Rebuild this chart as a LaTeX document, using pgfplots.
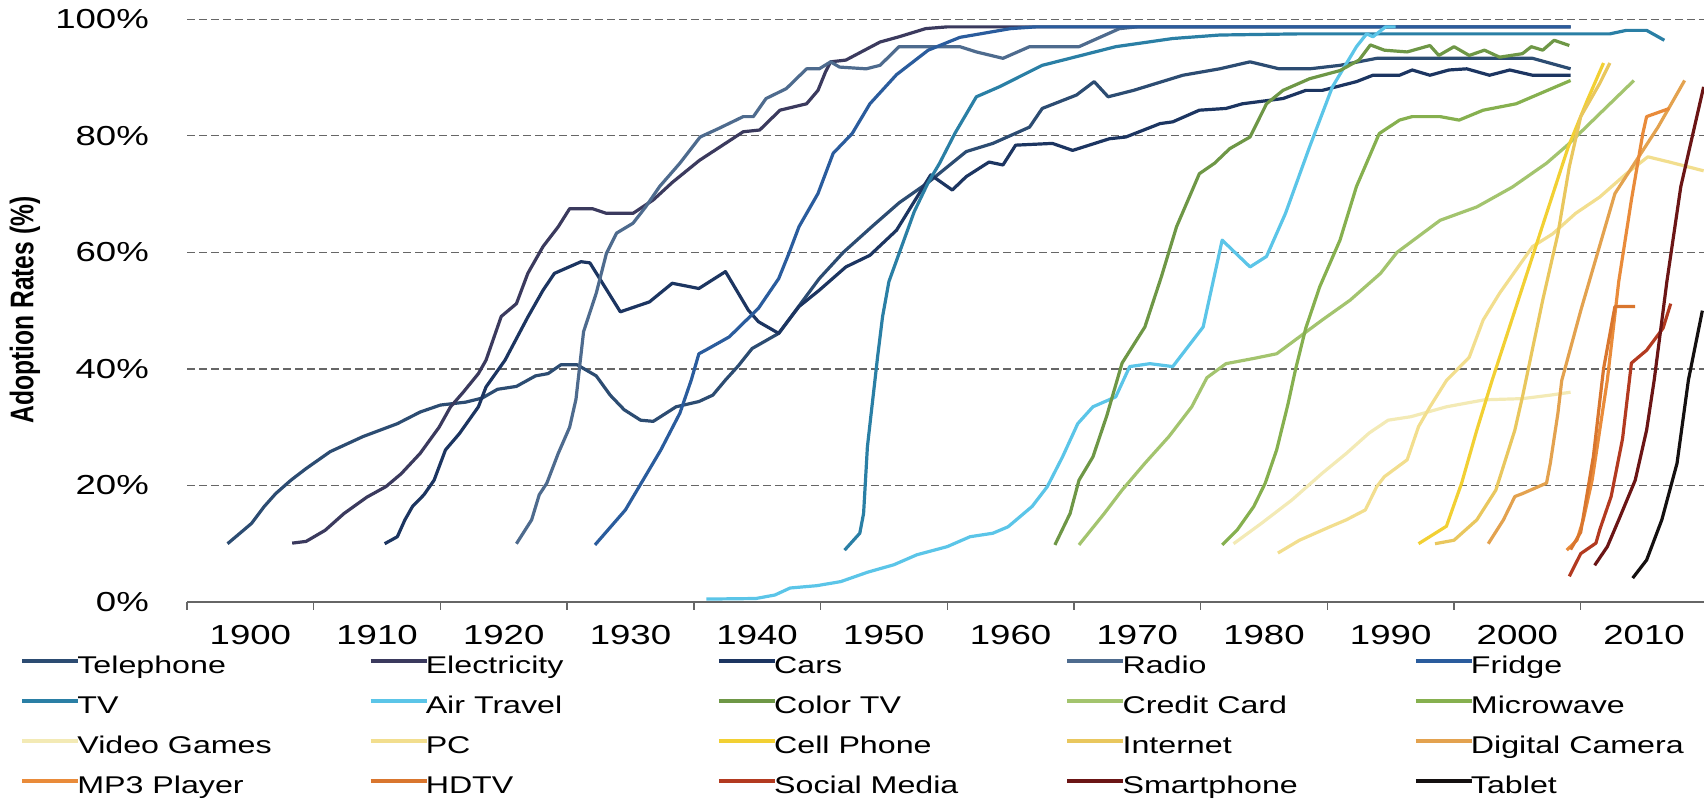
\documentclass[border=0pt]{standalone}
\usepackage{fontspec}
\setmainfont{Liberation Sans}[FakeStretch=1.33]
\newfontfamily\ylabfont{Liberation Sans}
\usepackage{pgfplots}
\pgfplotsset{compat=1.18}
\definecolor{cTel}{HTML}{2C4C72}
\definecolor{cEle}{HTML}{3B3A5E}
\definecolor{cCar}{HTML}{1C3561}
\definecolor{cRad}{HTML}{4E6B8E}
\definecolor{cFri}{HTML}{2A5C9D}
\definecolor{cTV}{HTML}{2A7FA5}
\definecolor{cAir}{HTML}{5BC5E8}
\definecolor{cCTV}{HTML}{6E9746}
\definecolor{cCC}{HTML}{A3C46E}
\definecolor{cMic}{HTML}{86B04F}
\definecolor{cVG}{HTML}{F3EAB5}
\definecolor{cPC}{HTML}{F2DE8E}
\definecolor{cCell}{HTML}{F2D033}
\definecolor{cInt}{HTML}{E9C75E}
\definecolor{cDC}{HTML}{E3A24F}
\definecolor{cMP3}{HTML}{E98B3A}
\definecolor{cHD}{HTML}{D9762E}
\definecolor{cSM}{HTML}{B33A20}
\definecolor{cSP}{HTML}{6B1515}
\definecolor{cTab}{HTML}{141010}
\begin{document}
\begin{tikzpicture}
\path[use as bounding box] (0,0) rectangle (852bp,400bp);
\begin{axis}[
  at={(93.5bp,99bp)}, anchor=south west,
  scale only axis, width=758.5bp, height=291.35bp,
  xmin=1895, xmax=2014.73, ymin=0, ymax=100,
  axis x line=bottom, axis y line=left,
  x axis line style={-, draw=black!60, line width=0.7bp},
  y axis line style={draw=none},
  xtick={1900,1910,1920,1930,1940,1950,1960,1970,1980,1990,2000,2010},
  xticklabels={1900,1910,1920,1930,1940,1950,1960,1970,1980,1990,2000,2010},
  minor xtick={1895,1905,1915,1925,1935,1945,1955,1965,1975,1985,1995,2005},
  major tick length=0pt, minor tick length=3.8bp, tick align=outside,
  minor tick style={draw=black!60, line width=0.7bp},
  ytick={0,20,40,60,80,100},
  yticklabels={0\%,20\%,40\%,60\%,80\%,100\%},
  ymajorgrids, grid style={dash pattern=on 4bp off 2bp, draw=black!60, line width=0.6bp},
  /pgf/number format/assume math mode=true,
  xticklabel style={font=\fontsize{13.75bp}{16bp}\selectfont, inner sep=0pt, anchor=north, yshift=-11.5bp},
  yticklabel style={font=\fontsize{13.75bp}{16bp}\selectfont, inner sep=0pt, anchor=east, xshift=-18.9bp},
  ylabel={\ylabfont\bfseries Adoption Rates (\%)},
  ylabel style={at={(axis description cs:-0.1068,0.501)}, anchor=center, font=\fontsize{12.3bp}{14bp}\selectfont, yscale=1.33},
  legend columns=5,
  legend style={at={(axis description cs:-0.1101,-0.0920)}, anchor=north west, draw=none, fill=none,
    inner sep=0pt, outer sep=0pt, font=\fontsize{12.1bp}{14bp}\selectfont,
    nodes={inner sep=0pt, text height=9bp, text depth=2.6bp},
    row sep=8.4bp, column sep=0pt,
    /tikz/every odd column/.append style={column sep=-1.5bp}},
  legend image code/.code={\draw[#1, line width=2.2bp] (0bp,3.2bp) -- (28bp,3.2bp);},
  every axis plot/.append style={line width=1.6bp, line join=round},
]
% Telephone
\addplot[cTel] coordinates {(1898.2,10) (1900.1,13.5) (1901.1,16.4) (1902,18.6) (1903.2,20.9) (1904.4,22.9) (1906.3,25.8) (1908.9,28.4) (1911.6,30.6) (1913.4,32.6) (1915,33.8) (1917,34.3) (1918.3,35.0) (1919.5,36.5) (1921,37.0) (1922.5,38.8) (1923.5,39.2) (1924.5,40.7) (1925.8,40.7) (1927.3,38.8) (1928.4,35.5) (1929.5,33) (1930.8,31.2) (1931.8,31.0) (1933.6,33.5) (1935.4,34.4) (1936.5,35.5) (1937.5,38.1) (1938.5,40.5) (1939.6,43.5) (1941.7,46.1) (1944.9,55.5) (1946.8,60) (1949.1,64.5) (1951.2,68.5) (1953.5,72) (1956.5,77.3) (1958.6,78.7) (1961.5,81.5) (1962.5,84.7) (1965.2,87) (1966.6,89.3) (1967.7,86.7) (1969.7,87.8) (1973.6,90.4) (1976.5,91.5) (1978.9,92.7) (1981.2,91.5) (1983.6,91.5) (1986,92.1) (1988.9,93.3) (2001.2,93.3) (2004.2,91.5)};
\addlegendentry{\makebox[145.5bp][l]{Telephone}}
% Electricity
\addplot[cEle] coordinates {(1903.3,10.1) (1904.4,10.4) (1905.9,12.3) (1907.4,15.2) (1909.2,18) (1910.7,19.8) (1911.9,22) (1913.4,25.5) (1914.9,30) (1915.8,33.5) (1916.8,36) (1918,39.2) (1918.6,41.5) (1919.8,49) (1921,51.2) (1921.9,56.4) (1923.1,61) (1924.3,64.4) (1925.2,67.5) (1927,67.5) (1928.1,66.7) (1930.2,66.7) (1931.8,69) (1933.3,72) (1935.45,75.8) (1938.9,80.7) (1940.2,81) (1941.8,84.4) (1943.9,85.5) (1944.8,87.8) (1945.4,91) (1945.8,92.7) (1947,93) (1949.7,96.1) (1951.2,97) (1953.3,98.4) (1955,98.7) (2004.2,98.7)};
\addlegendentry{\makebox[145.5bp][l]{Electricity}}
% Cars
\addplot[cCar] coordinates {(1910.6,10) (1911.6,11.2) (1912.2,14.1) (1912.8,16.4) (1913.7,18.4) (1914.5,20.9) (1915.4,26.1) (1916.5,28.9) (1918,33.5) (1918.6,36.9) (1920.1,41.5) (1921.9,48.9) (1923.1,53.5) (1924,56.4) (1926.1,58.4) (1926.8,58.2) (1929.2,49.8) (1931.5,51.5) (1933.3,54.7) (1935.4,53.8) (1937.5,56.7) (1939.3,50.1) (1940.1,48.1) (1941.7,46.1) (1943.3,50.7) (1944.9,53.5) (1947,57.5) (1948.9,59.5) (1951,63.8) (1953.7,73.3) (1955.4,70.7) (1956.5,73) (1958.3,75.5) (1959.4,75) (1960.4,78.4) (1963.3,78.7) (1964.9,77.5) (1967.8,79.5) (1969.1,79.8) (1971.8,82.1) (1972.8,82.4) (1974.9,84.4) (1977,84.7) (1978.3,85.5) (1981.5,86.4) (1983.3,87.8) (1984.6,87.8) (1987.3,89.3) (1988.6,90.4) (1990.7,90.4) (1991.7,91.3) (1993.1,90.4) (1994.6,91.3) (1996,91.5) (1997.8,90.4) (1999.4,91.3) (2001.2,90.4) (2004.2,90.4)};
\addlegendentry{\makebox[145.5bp][l]{Cars}}
% Radio
\addplot[cRad] coordinates {(1921,10) (1922.2,14.1) (1922.8,18.4) (1923.4,20.4) (1924.3,25.5) (1925.2,30) (1925.7,34.8) (1926.3,46.4) (1927.3,53) (1928.1,59.8) (1928.9,63.3) (1930.2,65) (1931.2,67.8) (1932.3,71.3) (1933.9,75.3) (1935.5,79.8) (1937,81.3) (1938.9,83.3) (1939.7,83.3) (1940.7,86.4) (1942.3,88.1) (1943.9,91.5) (1944.9,91.5) (1945.8,92.7) (1946.5,91.8) (1948.6,91.5) (1949.7,92.1) (1951.2,95.3) (1956,95.3) (1957.3,94.4) (1959.4,93.3) (1961.5,95.3) (1965.4,95.3) (1968.6,98.4) (1970,98.7) (2004.2,98.7)};
\addlegendentry{\makebox[145.5bp][l]{Radio}}
% Fridge
\addplot[cFri] coordinates {(1927.2,9.8) (1929.6,15.8) (1932.4,26.1) (1933.9,32.4) (1934.8,38.1) (1935.4,42.6) (1936,43.3) (1937.8,45.5) (1940.1,50.4) (1941.7,55.5) (1942.5,59.8) (1943.3,64.4) (1944.8,70.1) (1946,77) (1947.5,80.4) (1948.9,85.5) (1951,90.5) (1953.5,94.7) (1956,96.9) (1960,98.4) (1962,98.7) (2004.2,98.7)};
\addlegendentry{\makebox[145.5bp][l]{Fridge}}
% TV
\addplot[cTV] coordinates {(1946.9,8.9) (1948.1,11.8) (1948.4,15.2) (1948.7,26.6) (1949,32.4) (1949.3,38.1) (1949.5,42) (1949.9,49) (1950.4,55) (1951.2,59.8) (1952.4,67) (1953.5,72) (1954.4,75.3) (1955.6,80.4) (1957.3,86.7) (1959.1,88.4) (1962.5,92.1) (1968.3,95.3) (1972.8,96.7) (1976.5,97.3) (1982.8,97.5) (2007.3,97.5) (2008.6,98.1) (2010.2,98.1) (2011.6,96.4)};
\addlegendentry{\makebox[145.5bp][l]{TV}}
% Air Travel
\addplot[cAir] coordinates {(1936,0.5) (1939.9,0.6) (1941.4,1.2) (1942.6,2.4) (1944.7,2.8) (1946.6,3.5) (1948.7,5.1) (1950.8,6.4) (1952.6,8.1) (1955,9.5) (1956.8,11.2) (1958.6,11.8) (1959.8,12.9) (1961.7,16.4) (1962.9,19.8) (1964.1,24.9) (1965.3,30.6) (1966.5,33.5) (1968.3,35.2) (1969.4,40.4) (1971,40.9) (1972.8,40.4) (1975.2,47.2) (1976.7,62.1) (1978.9,57.5) (1980.2,59.3) (1981.7,66.7) (1983.6,78.1) (1985.4,88.4) (1987.3,95.3) (1988.1,97.5) (1988.6,97) (1989.6,98.7) (1990.4,98.7)};
\addlegendentry{\makebox[145.5bp][l]{Air Travel}}
% Color TV
\addplot[cCTV] coordinates {(1963.5,9.8) (1964.7,15.2) (1965.4,20.9) (1966.5,24.9) (1967.6,32) (1968.8,41) (1970.6,47.2) (1971.9,55.8) (1973.1,64.4) (1974.9,73.5) (1976.1,75.3) (1977.3,77.8) (1978.9,79.8) (1980.2,85.5) (1981.5,87.8) (1983.6,89.8) (1986,91.2) (1987.5,93) (1988.4,95.6) (1989.5,94.7) (1991.3,94.4) (1993.1,95.5) (1993.8,93.8) (1995,95.3) (1996.2,93.8) (1997.4,94.7) (1998.6,93.5) (2000.4,94.1) (2001.1,95.3) (2002,94.7) (2002.9,96.4) (2004.1,95.5)};
\addlegendentry{\makebox[145.5bp][l]{Color TV}}
% Credit Card
\addplot[cCC] coordinates {(1965.4,9.8) (1967.4,15.2) (1968.8,19.2) (1970.6,23.8) (1972.5,28.4) (1974.3,33.5) (1975.5,38.5) (1977,40.9) (1979.2,41.8) (1981,42.6) (1982.8,45.5) (1984.6,48.4) (1986.8,51.8) (1989.2,56.4) (1990.5,60) (1993.9,65.5) (1996.8,67.8) (1999.6,71.2) (2002.3,75.3) (2004,78.5) (2006.5,83.8) (2009.2,89.5)};
\addlegendentry{\makebox[145.5bp][l]{Credit Card}}
% Microwave
\addplot[cMic] coordinates {(1976.7,9.8) (1977.9,12.4) (1979.2,16.4) (1980.1,20.4) (1981,26.1) (1981.9,34) (1982.5,40) (1983.3,47) (1984.4,54.1) (1986,62.1) (1987.3,71.3) (1989.1,80.4) (1990.7,82.7) (1991.7,83.3) (1993.9,83.3) (1995.4,82.7) (1997.3,84.4) (1999.9,85.5) (2004.2,89.5)};
\addlegendentry{\makebox[145.5bp][l]{Microwave}}
% Video Games
\addplot[cVG] coordinates {(1977.6,10) (1979.8,13.5) (1982.2,17.5) (1984.6,22.1) (1986.5,25.5) (1988.3,29) (1989.8,31.2) (1991.6,31.8) (1994.4,33.5) (1997.4,34.7) (2000.4,34.9) (2002.6,35.5) (2004.2,36)};
\addlegendentry{\makebox[145.5bp][l]{Video Games}}
% PC
\addplot[cPC] coordinates {(1981.1,8.4) (1982.8,10.6) (1985.2,12.9) (1986.5,14.1) (1988,15.8) (1988.9,19.8) (1989.5,21.5) (1991.3,24.4) (1992.2,30.1) (1993.1,33.5) (1994.4,38) (1996.2,42) (1997.3,48.4) (1998.6,53) (2001.2,61) (2002.8,63.2) (2004.6,66.7) (2006.5,69.5) (2008.6,73.5) (2010.3,76.4) (2012,75.5) (2014.7,74)};
\addlegendentry{\makebox[145.5bp][l]{PC}}
% Cell Phone
\addplot[cCell] coordinates {(1992.2,10) (1994.4,13) (1995.6,20.4) (1996.8,29.5) (1998,38) (1999.5,48) (2001,58) (2002.5,68) (2004,78) (2005.5,86) (2006.8,92.5)};
\addlegendentry{\makebox[145.5bp][l]{Cell Phone}}
% Internet
\addplot[cInt] coordinates {(1993.5,10) (1995,10.6) (1996.8,14.1) (1998.3,19.2) (1999.8,29.5) (2000.4,35.2) (2002,51.8) (2003.2,63.2) (2004.1,74.7) (2005,83.3) (2006.5,89) (2007.3,92.5)};
\addlegendentry{\makebox[145.5bp][l]{Internet}}
% Digital Camera
\addplot[cDC] coordinates {(1997.7,10) (1998.9,14.1) (1999.8,18.1) (2000.4,18.6) (2002.3,20.4) (2002.6,23.8) (2003.2,32.4) (2003.5,38) (2005,50) (2007.7,70.1) (2011.1,81.5) (2013.2,89.5)};
\addlegendentry{\makebox[145.5bp][l]{Digital Camera}}
% MP3 Player
\addplot[cMP3] coordinates {(2003.9,8.9) (2004.7,10.6) (2005.2,14.1) (2005.9,20.9) (2006.5,29.5) (2007.1,38.1) (2008,55) (2009,69) (2009.9,80.4) (2010.2,83.3) (2012,84.7)};
\addlegendentry{\makebox[145.5bp][l]{MP3 Player}}
% HDTV
\addplot[cHD] coordinates {(2004.2,9) (2005,12) (2006,25) (2006.8,40) (2007.7,50.7) (2009.3,50.7)};
\addlegendentry{\makebox[145.5bp][l]{HDTV}}
% Social Media
\addplot[cSM] coordinates {(2004.1,4.4) (2005,8.3) (2006.2,10.1) (2006.5,12.4) (2007.4,18.1) (2008.3,28) (2009,41) (2010.2,43.2) (2011.5,47) (2012.1,51.2)};
\addlegendentry{\makebox[145.5bp][l]{Social Media}}
% Smartphone
\addplot[cSP] coordinates {(2006.1,6.3) (2007.1,9.5) (2008,14.1) (2009.3,20.9) (2010.2,29.5) (2010.8,38.1) (2011.8,55) (2012.9,71.3) (2014.7,88.4)};
\addlegendentry{\makebox[145.5bp][l]{Smartphone}}
% Tablet
\addplot[cTab] coordinates {(2009.1,4.1) (2010.2,7.2) (2011.4,14.1) (2012.6,23.8) (2013.5,38.1) (2014.6,50)};
\addlegendentry{\makebox[145.5bp][l]{Tablet}}
\end{axis}
\end{tikzpicture}
\end{document}
